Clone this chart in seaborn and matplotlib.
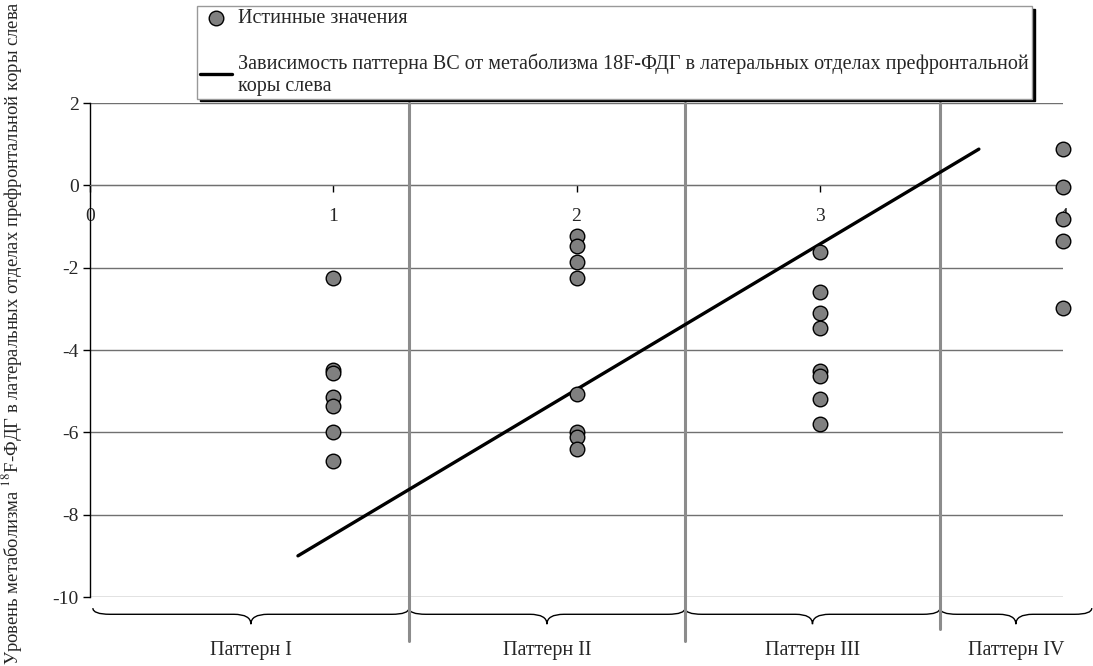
import numpy as np
import pandas as pd
import matplotlib.pyplot as plt
from matplotlib.path import Path
from matplotlib.patches import PathPatch
import seaborn as sns

# ---------------------------
# DATA
# ---------------------------
pattern_x = [1] * 7 + [2] * 8 + [3] * 8 + [4] * 5
metabolism_y = [
    -2.26, -4.49, -4.57, -5.14, -5.36, -6.00, -6.69,            # pattern 1
    -1.24, -1.47, -1.85, -2.26, -5.08, -6.00, -6.12, -6.41,     # pattern 2
    -1.61, -2.59, -3.09, -3.46, -4.50, -4.63, -5.18, -5.80,     # pattern 3
    0.88, -0.03, -0.81, -1.36, -2.98,                           # pattern 4
]
fit_x = [0.855, 3.654]
fit_y = [-9.00, 0.88]

x_ticks = [0, 1, 2, 3, 4]
y_ticks = [2, 0, -2, -4, -6, -8, -10]

pattern_names = ["Паттерн I", "Паттерн II", "Паттерн III", "Паттерн IV"]
pattern_bounds = [0.012, 1.311, 2.446, 3.494, 4.118]

label_points = "Истинные значения"
label_fit = ("Зависимость паттерна ВС от метаболизма 18F-ФДГ в латеральных отделах префронтальной\n"
             "коры слева")
y_label = "Уровень метаболизма $^{18}$F-ФДГ в латеральных отделах префронтальной коры слева"

df = pd.DataFrame({"pattern": pattern_x, "value": metabolism_y})
fit = pd.DataFrame({"x": fit_x, "y": fit_y})

# ---------------------------
# STYLE
# ---------------------------
sns.set_style("white")
plt.rcParams["font.family"] = ["Liberation Serif", "DejaVu Serif"]
plt.rcParams["mathtext.fontset"] = "stix"
plt.rcParams["axes.unicode_minus"] = False

fig = plt.figure(figsize=(10.93, 6.66), dpi=100)
ax = fig.add_axes([0.0823, 0.1036, 0.8903, 0.7417])

grid_color = "#707070"

# ---------------------------
# PLOT
# ---------------------------
sns.lineplot(data=fit, x="x", y="y", ax=ax, color="black", lw=2.4,
             label=label_fit, zorder=4)
sns.scatterplot(data=df, x="pattern", y="value", ax=ax, s=110,
                color="#808080", edgecolor="black", linewidth=1,
                label=label_points, zorder=5, clip_on=False)

ax.set_xlim(0, 4)
ax.set_ylim(-10, 2)
ax.set_xticks(x_ticks)
ax.set_yticks(y_ticks)
ax.set_xlabel("")
ax.set_ylabel("")

for yv in y_ticks:
    ax.axhline(yv, color=grid_color, lw=1, zorder=1)

ax.spines["top"].set_visible(False)
ax.spines["right"].set_visible(False)
ax.spines["bottom"].set_position(("data", 0))
ax.spines["bottom"].set_color(grid_color)
ax.spines["left"].set_color("black")
ax.spines["left"].set_linewidth(1)
ax.tick_params(axis="y", direction="out", length=5, width=1, color="black",
               labelsize=14, pad=3, left=True)
ax.tick_params(axis="x", direction="out", length=5, width=1, color="black",
               labelsize=14, pad=11, bottom=True)

# pattern separators
sep_ends = [-11.07, -11.07, -10.78]
for xb, y_end in zip(pattern_bounds[1:4], sep_ends):
    ax.plot([xb, xb], [2, y_end], color="#8c8c8c", lw=2.2, clip_on=False, zorder=3)

# braces + pattern names
def brace(x0, x1, yt=-10.27, ym=-10.42, ytip=-10.66, r=0.07):
    xm = (x0 + x1) / 2
    verts = [(x0, yt), (x0, ym), (x0 + r, ym), (xm - r, ym), (xm, ym), (xm, ytip),
             (xm, ym), (xm + r, ym), (x1 - r, ym), (x1, ym), (x1, yt)]
    codes = [Path.MOVETO, Path.CURVE3, Path.CURVE3, Path.LINETO, Path.CURVE3, Path.CURVE3,
             Path.CURVE3, Path.CURVE3, Path.LINETO, Path.CURVE3, Path.CURVE3]
    ax.add_patch(PathPatch(Path(verts, codes), fc="none", ec="black", lw=1, clip_on=False))

for name, x0, x1 in zip(pattern_names, pattern_bounds[:-1], pattern_bounds[1:]):
    brace(x0, x1)
    ax.text((x0 + x1) / 2, -11.3, name, ha="center", va="center", fontsize=14.5)

fig.text(12 / 1093, 0.5, y_label, rotation=90, ha="center", va="center", fontsize=13.4)

handles, labels = ax.get_legend_handles_labels()
ax.legend(handles[::-1], labels[::-1], loc="upper left",
          bbox_to_anchor=(197 / 1093, 1 - 6 / 666), bbox_transform=fig.transFigure,
          frameon=True, fancybox=False, shadow={"color": "black", "alpha": 1},
          edgecolor="#999999", fontsize=14.5, labelspacing=1.25, handlelength=1.6,
          handletextpad=0.3, borderpad=0.15, borderaxespad=0)

fig.savefig("out.png", dpi=100)
